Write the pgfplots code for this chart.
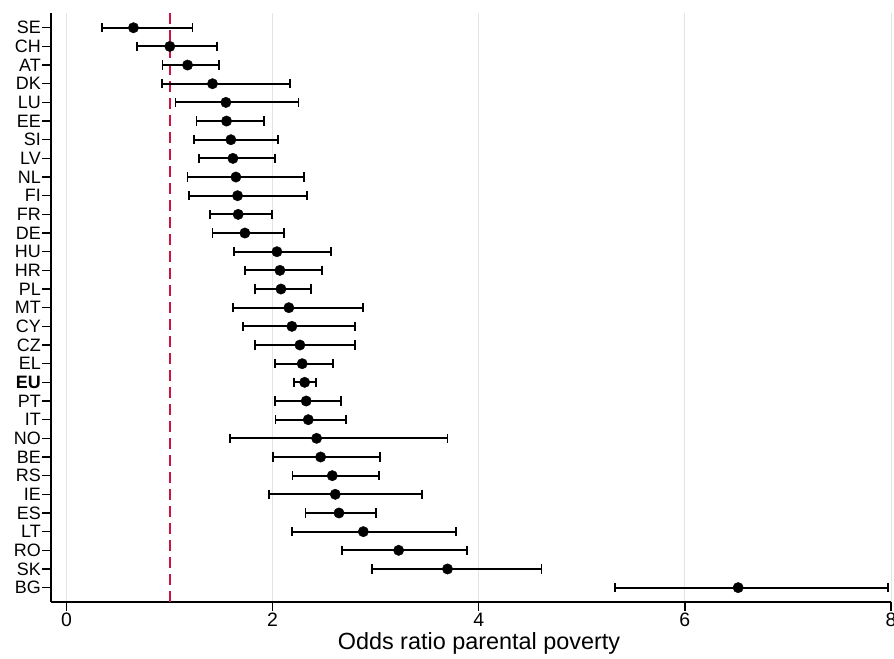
\documentclass[border=0pt]{standalone}
\usepackage{fontspec}
\setmainfont{Liberation Sans}
\usepackage{pgfplots}
\usepackage{pgfplotstable}
\pgfplotsset{compat=1.18}

\definecolor{refred}{RGB}{205,20,65}
\definecolor{gridgray}{RGB}{228,228,228}

% Odds ratios with 95% confidence bounds, one row per country (top to bottom)
\pgfplotstableread{
idx or    lo    hi
0   0.650 0.343 1.223
1   1.003 0.686 1.462
2   1.175 0.932 1.479
3   1.417 0.928 2.171
4   1.547 1.058 2.252
5   1.553 1.262 1.916
6   1.595 1.236 2.051
7   1.615 1.288 2.022
8   1.644 1.175 2.301
9   1.660 1.187 2.333
10  1.666 1.391 1.993
11  1.731 1.417 2.107
12  2.042 1.627 2.566
13  2.071 1.731 2.479
14  2.081 1.828 2.369
15  2.158 1.615 2.874
16  2.187 1.712 2.802
17  2.265 1.828 2.802
18  2.287 2.025 2.583
19  2.311 2.204 2.424
20  2.326 2.025 2.666
21  2.346 2.029 2.712
22  2.427 1.589 3.697
23  2.466 2.006 3.039
24  2.579 2.194 3.029
25  2.608 1.964 3.448
26  2.644 2.320 3.006
27  2.880 2.190 3.780
28  3.223 2.676 3.886
29  3.697 2.967 4.608
30  6.517 5.323 7.974
}\oddsdata

\begin{document}
\begin{tikzpicture}
\begin{axis}[
  scale only axis,
  width=840bp, height=589bp,
  xmin=-0.15, xmax=8,
  ymin=-0.79, ymax=30.77,
  y dir=reverse,
  axis x line*=bottom, axis y line*=left,
  axis line style={line width=1.3bp, black},
  xtick={0,2,4,6,8},
  ytick={0,...,30},
  yticklabels={SE,CH,AT,DK,LU,EE,SI,LV,NL,FI,FR,DE,HU,HR,PL,MT,CY,CZ,EL,\textbf{EU},PT,IT,NO,BE,RS,IE,ES,LT,RO,SK,BG},
  tick align=outside,
  major tick length=8.5bp,
  tick style={line width=1.3bp, black},
  xmajorgrids,
  major x grid style={gridgray, line width=1bp},
  yticklabel style={font=\fontsize{18}{18}\selectfont, inner sep=1.5bp},
  xticklabel style={font=\fontsize{19.5}{19.5}\selectfont, inner sep=2bp},
  /pgf/number format/assume math mode=true,
  xlabel={Odds ratio parental poverty},
  xlabel style={font=\fontsize{23.5}{24}\selectfont, xshift=8bp, yshift=-4bp, inner sep=0pt},
  clip=false,
]
  % reference line at odds ratio 1
  \addplot[refred, line width=2bp, dash pattern=on 11bp off 6bp]
    coordinates {(1,-0.79) (1,30.77)};
  % point estimates with confidence intervals
  \addplot[only marks, mark=*, mark size=5.2bp, black,
    error bars/.cd,
      x dir=both, x explicit,
      error bar style={line width=2bp, black},
      error mark options={rotate=90, mark size=4.7bp, line width=1.8bp, black}]
    table[x=or, y=idx,
      x error plus expr=\thisrow{hi}-\thisrow{or},
      x error minus expr=\thisrow{or}-\thisrow{lo}] {\oddsdata};
\end{axis}
\pgfresetboundingbox
\path[use as bounding box] ([xshift=-51bp,yshift=-57bp]current axis.south west) rectangle ++(894bp,659bp);
\end{tikzpicture}
\end{document}
